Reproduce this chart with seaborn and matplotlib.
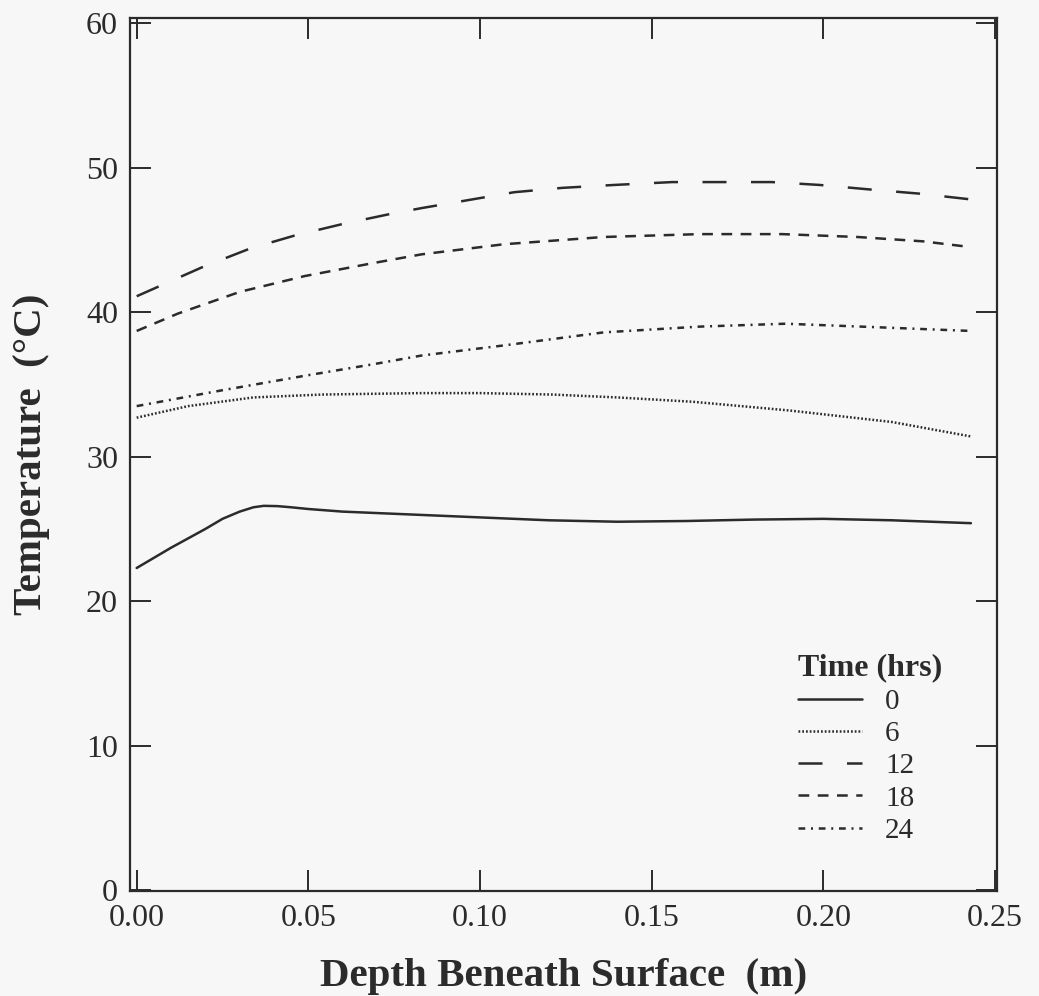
import pandas as pd
import numpy as np
import matplotlib
matplotlib.use('Agg')
import matplotlib.pyplot as plt
import seaborn as sns

sns.set_theme(style='ticks')
plt.rcParams['font.family'] = ['Liberation Serif', 'DejaVu Serif']

# Depth (m) and temperature (C), one pair of lists per time
depth_0 = [0.0, 0.01, 0.02, 0.025, 0.03, 0.034, 0.037, 0.041, 0.045, 0.05, 0.06, 0.08, 0.10, 0.12, 0.14, 0.16, 0.18, 0.20, 0.22, 0.243]
temp_0 = [22.3, 23.7, 25.0, 25.7, 26.2, 26.5, 26.6, 26.58, 26.5, 26.38, 26.2, 26.0, 25.8, 25.6, 25.5, 25.55, 25.65, 25.7, 25.6, 25.4]

depth_6 = [0.0, 0.015, 0.034, 0.054, 0.083, 0.10, 0.121, 0.14, 0.162, 0.19, 0.22, 0.243]
temp_6 = [32.7, 33.5, 34.1, 34.3, 34.4, 34.4, 34.3, 34.1, 33.8, 33.2, 32.4, 31.4]

depth_12 = [0.0, 0.019, 0.033, 0.046, 0.060, 0.074, 0.083, 0.11, 0.124, 0.139, 0.156, 0.17, 0.185, 0.199, 0.213, 0.228, 0.243]
temp_12 = [41.1, 43.1, 44.4, 45.3, 46.1, 46.8, 47.2, 48.3, 48.6, 48.8, 49.0, 49.0, 49.0, 48.8, 48.5, 48.2, 47.8]

depth_18 = [0.0, 0.012, 0.030, 0.049, 0.069, 0.083, 0.107, 0.136, 0.164, 0.188, 0.21, 0.229, 0.243]
temp_18 = [38.7, 39.9, 41.4, 42.5, 43.4, 44.0, 44.7, 45.2, 45.4, 45.4, 45.2, 44.9, 44.5]

depth_24 = [0.0, 0.025, 0.049, 0.069, 0.083, 0.107, 0.136, 0.164, 0.189, 0.211, 0.243]
temp_24 = [33.5, 34.6, 35.6, 36.4, 37.0, 37.7, 38.6, 39.0, 39.2, 39.0, 38.7]

times = ['0', '6', '12', '18', '24']
depths = [depth_0, depth_6, depth_12, depth_18, depth_24]
temps = [temp_0, temp_6, temp_12, temp_18, temp_24]

df = pd.concat([pd.DataFrame({'depth': d, 'temp': t, 'time': h})
                for d, t, h in zip(depths, temps, times)], ignore_index=True)

line_dashes = {'0': '', '6': (0.7, 0.8), '12': (9.6, 9.8), '18': (4.3, 3.4), '24': (2.7, 2.3, 0.8, 2.3)}

ink = '#2b2b2b'
bg = '#f7f7f7'

fig = plt.figure(figsize=(10.39, 9.96), dpi=100, facecolor=bg)
ax = fig.add_axes([0.1256, 0.1054, 0.8340, 0.8765])
ax.set_facecolor(bg)

sns.lineplot(data=df, x='depth', y='temp', style='time', style_order=times,
             dashes=line_dashes, color=ink, linewidth=1.8, estimator=None,
             sort=False, ax=ax)

ax.set_xlim(-0.0018, 0.2506)
ax.set_ylim(-0.05, 60.35)
ax.set_xticks([0.0, 0.05, 0.10, 0.15, 0.20, 0.25])
ax.set_xticklabels(['0.00', '0.05', '0.10', '0.15', '0.20', '0.25'])
ax.set_yticks([0, 10, 20, 30, 40, 50, 60])

for s in ax.spines.values():
    s.set_linewidth(1.6)
    s.set_color(ink)
ax.tick_params(direction='in', top=True, right=True, length=15, width=1.4,
               color=ink, labelsize=23, labelcolor=ink, pad=9)

ax.set_xlabel('Depth Beneath Surface  (m)', fontsize=29.5, fontweight='bold',
              color=ink, labelpad=18)
ax.set_ylabel('Temperature  (°C)', fontsize=29.5, fontweight='bold',
              color=ink, labelpad=26)

handles, labels = ax.get_legend_handles_labels()
leg = ax.legend(handles, labels, title='Time (hrs)', loc='upper left',
                bbox_to_anchor=(0.770, 0.272), frameon=False, fontsize=21,
                title_fontproperties={'size': 23, 'weight': 'bold'},
                handlelength=2.2, handletextpad=0.8, labelspacing=0.2,
                borderpad=0, borderaxespad=0, alignment='left')
leg.get_title().set_color(ink)
for t in leg.get_texts():
    t.set_color(ink)

fig.savefig('out.png', dpi=100, facecolor=bg)
